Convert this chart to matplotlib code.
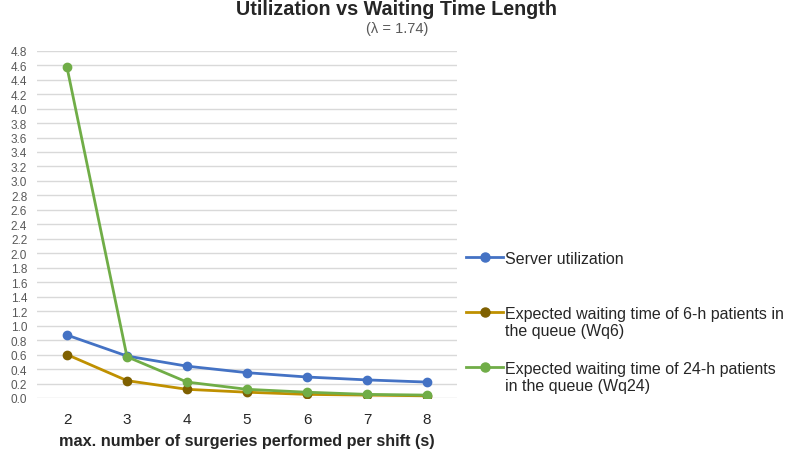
import matplotlib
matplotlib.use("Agg")
import matplotlib.pyplot as plt
from matplotlib.lines import Line2D
import numpy as np

plt.rcParams['font.family'] = ['Liberation Sans', 'DejaVu Sans']

servers = [2, 3, 4, 5, 6, 7, 8]
utilization = [0.87, 0.58, 0.44, 0.35, 0.29, 0.25, 0.22]
wq6 = [0.60, 0.24, 0.12, 0.08, 0.05, 0.04, 0.03]
wq24 = [4.57, 0.57, 0.22, 0.12, 0.08, 0.05, 0.04]
yticks = np.round(np.arange(0, 4.81, 0.2), 1)

labels = ["Server utilization",
          "Expected waiting time of 6-h patients in\nthe queue (Wq6)",
          "Expected waiting time of 24-h patients\nin the queue (Wq24)"]
line_colors = ['#4472C4', '#BF9000', '#70AD47']
marker_colors = ['#4472C4', '#7F6000', '#70AD47']

W, H = 797, 452
fig = plt.figure(figsize=(W/100, H/100), dpi=100)
ax = fig.add_axes([37/W, 1-399/H, 420/W, (399-51.7)/H])

x = np.arange(len(servers))
for vals, lc, mc in zip([utilization, wq6, wq24], line_colors, marker_colors):
    ax.plot(x, vals, color=lc, lw=2.0, marker='o', ms=6,
            markerfacecolor=mc, markeredgecolor=mc)

ax.set_xlim(-0.5, len(servers) - 0.5)
ax.set_ylim(0, 4.8)
ax.set_xticks(x)
ax.set_xticklabels([str(s) for s in servers], fontsize=11, color='#262626')
ax.set_yticks(yticks)
ax.set_yticklabels([f"{v:.1f}" for v in yticks], fontsize=8.5, color='#595959')
ax.tick_params(axis='both', length=0)
ax.tick_params(axis='y', pad=7)
ax.tick_params(axis='x', pad=10)
for s in ax.spines.values():
    s.set_visible(False)
ax.grid(axis='y', color='#D9D9D9', lw=1.0)
ax.set_axisbelow(True)

ax.set_xlabel("max. number of surgeries performed per shift (s)", fontsize=11.7,
              fontweight='bold', color='#262626', labelpad=5)

fig.text(397/W, 1-15/H, "Utilization vs Waiting Time Length", ha='center', va='baseline',
         fontsize=14.2, fontweight='bold', color='#262626')
fig.text(397/W, 1-28.5/H, "(\u03bb = 1.74)", ha='center', va='center',
         fontsize=10.5, color='#595959')

# legend drawn Excel-style: handle aligned with first text line
legend_y = [258, 313, 368]
for yy, lab, lc, mc in zip(legend_y, labels, line_colors, marker_colors):
    fy = 1 - yy/H
    fig.add_artist(Line2D([466/W, 503/W], [fy, fy], color=lc, lw=2.0,
                          transform=fig.transFigure))
    fig.add_artist(Line2D([484.5/W], [fy], color=mc, marker='o', ms=6.5,
                          markerfacecolor=mc, markeredgecolor=mc,
                          transform=fig.transFigure))
    fig.text(505/W, fy + 6/H, lab, ha='left', va='top', fontsize=11.5,
             color='#262626', linespacing=1.2)

fig.savefig("out.png", dpi=100)
